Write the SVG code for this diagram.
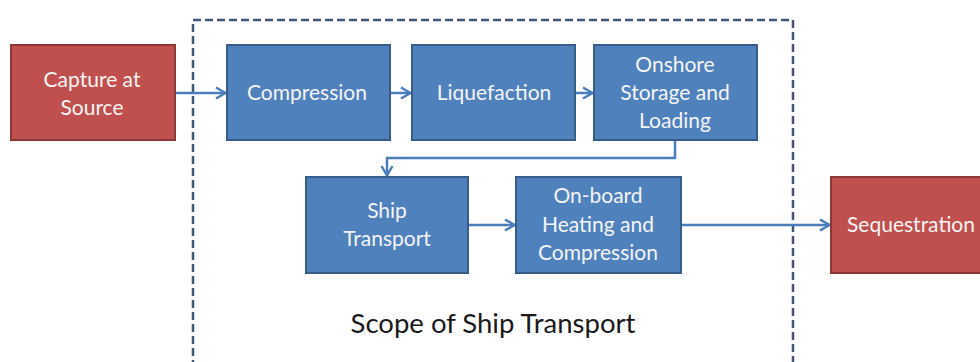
<svg xmlns="http://www.w3.org/2000/svg" width="980" height="362" viewBox="0 0 980 362">
<defs>
<style>
.red{fill:#C0504D;stroke:#8C3836;stroke-width:2}
.blue{fill:#4F81BD;stroke:#385D8A;stroke-width:2}
.t{font-family:Lato,"Open Sans",sans-serif;font-size:21px;fill:#F4F4F4;text-anchor:middle}
.c{fill:none;stroke:#4A7EBB;stroke-width:2.5}
</style>
<marker id="ah" viewBox="0 0 14 14" refX="13" refY="7" markerWidth="14" markerHeight="14" markerUnits="userSpaceOnUse" orient="auto">
<path d="M3,1.5 L12.5,7 L3,12.5" fill="none" stroke="#4A7EBB" stroke-width="2.4"/>
</marker>
</defs>
<rect width="980" height="362" fill="#FFFFFF"/>
<g id="scope">
<rect x="193" y="20" width="600" height="360" fill="none" stroke="#3D5877" stroke-width="2.5" stroke-dasharray="8,4"/>
<text x="493" y="333" font-family="Lato,'Open Sans',sans-serif" font-size="27.5" fill="#1A1A1A" text-anchor="middle">Scope of Ship Transport</text>
</g>
<g id="connectors">
<line class="c" x1="175" y1="93" x2="226" y2="93" marker-end="url(#ah)"/>
<line class="c" x1="390" y1="93" x2="411" y2="93" marker-end="url(#ah)"/>
<line class="c" x1="575" y1="93" x2="593" y2="93" marker-end="url(#ah)"/>
<polyline class="c" points="675,140 675,158 387,158 387,176" marker-end="url(#ah)"/>
<line class="c" x1="468" y1="225" x2="515" y2="225" marker-end="url(#ah)"/>
<line class="c" x1="681" y1="225" x2="830" y2="225" marker-end="url(#ah)"/>
</g>
<g id="capture">
<rect class="red" x="11" y="45" width="164" height="95"/>
<text class="t" x="92" y="87">Capture at</text>
<text class="t" x="92" y="115">Source</text>
</g>
<g id="compression">
<rect class="blue" x="227" y="45" width="163" height="95"/>
<text class="t" x="307" y="100">Compression</text>
</g>
<g id="liquefaction">
<rect class="blue" x="412" y="45" width="163" height="95"/>
<text class="t" x="494" y="100">Liquefaction</text>
</g>
<g id="onshore">
<rect class="blue" x="594" y="45" width="163" height="95"/>
<text class="t" x="675" y="72">Onshore</text>
<text class="t" x="675" y="100">Storage and</text>
<text class="t" x="675" y="128">Loading</text>
</g>
<g id="ship">
<rect class="blue" x="306" y="177" width="162" height="96"/>
<text class="t" x="387" y="218">Ship</text>
<text class="t" x="387" y="246">Transport</text>
</g>
<g id="onboard">
<rect class="blue" x="516" y="177" width="165" height="96"/>
<text class="t" x="598" y="203">On-board</text>
<text class="t" x="598" y="232">Heating and</text>
<text class="t" x="598" y="260">Compression</text>
</g>
<g id="sequestration">
<rect class="red" x="831" y="177" width="160" height="96"/>
<text class="t" x="911" y="232">Sequestration</text>
</g>
</svg>
